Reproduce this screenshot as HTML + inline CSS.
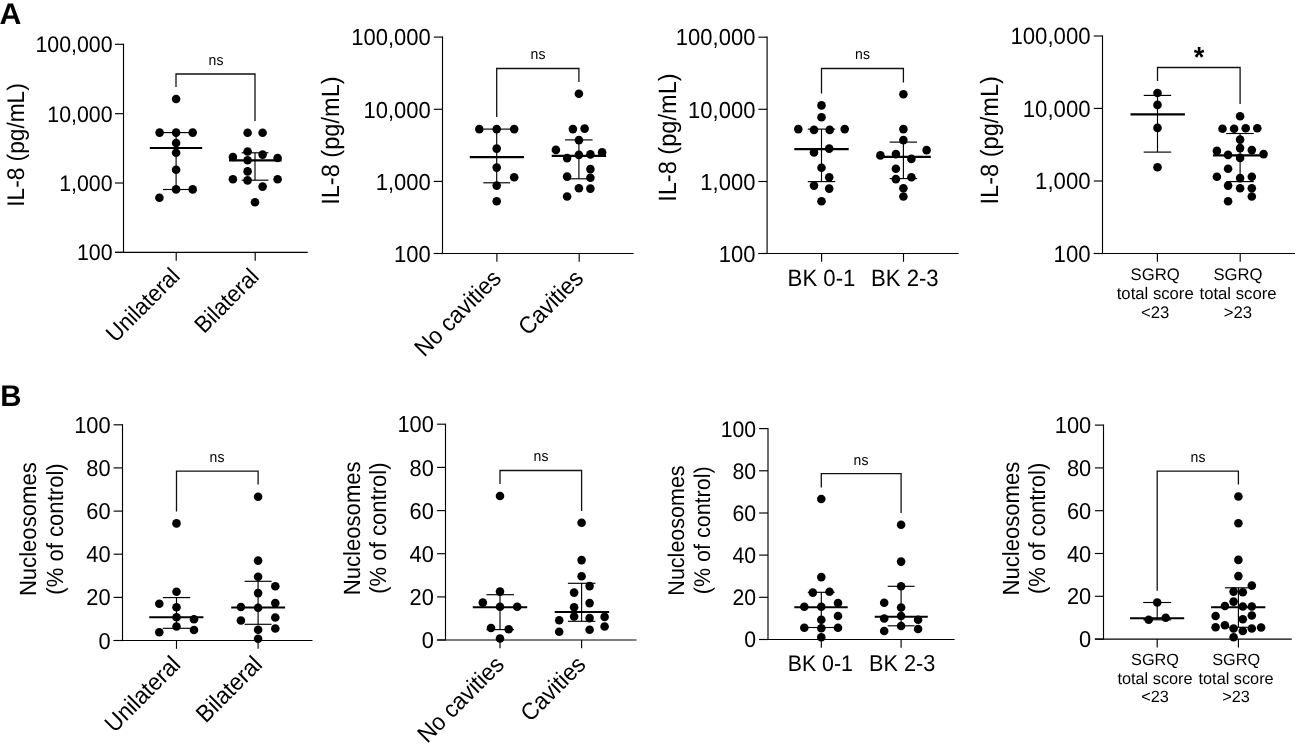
<!DOCTYPE html>
<html lang="en"><head><meta charset="utf-8"><title>Figure</title>
<style>
html,body{margin:0;padding:0;background:#fff;}
svg{display:block;filter:grayscale(1);}
text{font-family:'Liberation Sans', Arial, Helvetica, sans-serif;fill:#000;text-rendering:geometricPrecision;}
</style></head>
<body>
<svg width="1298" height="746" viewBox="0 0 1298 746">
<rect width="1298" height="746" fill="#fff"/>
<line x1="123.5" y1="43.7" x2="123.5" y2="253.0" stroke="#000" stroke-width="1.15"/>
<line x1="115.0" y1="44.3" x2="123.5" y2="44.3" stroke="#000" stroke-width="1.15"/>
<text transform="translate(112.5,52.2) scale(1.0,1.06)" text-anchor="end" font-size="21.3">100,000</text>
<line x1="115.0" y1="113.7" x2="123.5" y2="113.7" stroke="#000" stroke-width="1.15"/>
<text transform="translate(112.5,121.6) scale(1.0,1.06)" text-anchor="end" font-size="21.3">10,000</text>
<line x1="115.0" y1="183.0" x2="123.5" y2="183.0" stroke="#000" stroke-width="1.15"/>
<text transform="translate(112.5,190.9) scale(1.0,1.06)" text-anchor="end" font-size="21.3">1,000</text>
<line x1="115.0" y1="252.4" x2="123.5" y2="252.4" stroke="#000" stroke-width="1.15"/>
<text transform="translate(112.5,260.4) scale(1.0,1.06)" text-anchor="end" font-size="21.3">100</text>
<line x1="115.0" y1="252.4" x2="307.7" y2="252.4" stroke="#000" stroke-width="1.15"/>
<line x1="176.2" y1="252.4" x2="176.2" y2="260.8" stroke="#000" stroke-width="1.15"/>
<line x1="255.2" y1="252.4" x2="255.2" y2="260.8" stroke="#000" stroke-width="1.15"/>
<line x1="149.8" y1="148.0" x2="202.2" y2="148.0" stroke="#000" stroke-width="2.1"/>
<line x1="176.1" y1="132.6" x2="176.1" y2="189.5" stroke="#000" stroke-width="1.15"/>
<line x1="163.0" y1="132.6" x2="190.0" y2="132.6" stroke="#000" stroke-width="1.15"/>
<line x1="163.0" y1="189.5" x2="190.0" y2="189.5" stroke="#000" stroke-width="1.15"/>
<circle cx="176.1" cy="99.0" r="4.3"/>
<circle cx="159.6" cy="132.6" r="4.3"/>
<circle cx="176.1" cy="132.6" r="4.3"/>
<circle cx="192.7" cy="132.6" r="4.3"/>
<circle cx="176.1" cy="143.0" r="4.3"/>
<circle cx="176.1" cy="152.8" r="4.3"/>
<circle cx="176.1" cy="169.7" r="4.3"/>
<circle cx="176.1" cy="189.4" r="4.3"/>
<circle cx="192.7" cy="189.4" r="4.3"/>
<circle cx="159.4" cy="197.7" r="4.3"/>
<line x1="229.0" y1="160.4" x2="281.6" y2="160.4" stroke="#000" stroke-width="2.1"/>
<line x1="255.0" y1="152.8" x2="255.0" y2="180.2" stroke="#000" stroke-width="1.15"/>
<line x1="241.6" y1="152.8" x2="268.4" y2="152.8" stroke="#000" stroke-width="1.15"/>
<line x1="241.6" y1="180.2" x2="268.4" y2="180.2" stroke="#000" stroke-width="1.15"/>
<circle cx="247.6" cy="132.8" r="4.3"/>
<circle cx="262.6" cy="132.8" r="4.3"/>
<circle cx="247.6" cy="151.5" r="4.3"/>
<circle cx="262.6" cy="154.6" r="4.3"/>
<circle cx="232.9" cy="157.0" r="4.3"/>
<circle cx="277.6" cy="158.0" r="4.3"/>
<circle cx="247.6" cy="160.3" r="4.3"/>
<circle cx="247.6" cy="171.4" r="4.3"/>
<circle cx="232.9" cy="179.3" r="4.3"/>
<circle cx="247.6" cy="180.4" r="4.3"/>
<circle cx="277.6" cy="179.3" r="4.3"/>
<circle cx="262.6" cy="186.6" r="4.3"/>
<circle cx="255.0" cy="202.2" r="4.3"/>
<polyline points="176.0,86.9 176.0,74.0 255.0,74.0 255.0,120.9" fill="none" stroke="#111" stroke-width="1.3"/>
<text transform="translate(216.0,64.8) scale(1.0,1.06)" text-anchor="middle" font-size="14.0">ns</text>
<text transform="translate(23.6,145.0) rotate(-90) scale(1.0,1.06)" text-anchor="middle" font-size="22.7">IL-8 (pg/mL)</text>
<text transform="translate(181.2,277.5) rotate(-45) scale(1.0,1.06)" text-anchor="end" font-size="22.0">Unilateral</text>
<text transform="translate(260.3,278.1) rotate(-45) scale(1.0,1.06)" text-anchor="end" font-size="22.0">Bilateral</text>
<line x1="442.5" y1="36.5" x2="442.5" y2="254.1" stroke="#000" stroke-width="1.15"/>
<line x1="433.8" y1="37.1" x2="442.5" y2="37.1" stroke="#000" stroke-width="1.15"/>
<text transform="translate(430.8,45.3) scale(1.0,1.06)" text-anchor="end" font-size="22.0">100,000</text>
<line x1="433.8" y1="109.3" x2="442.5" y2="109.3" stroke="#000" stroke-width="1.15"/>
<text transform="translate(430.8,117.5) scale(1.0,1.06)" text-anchor="end" font-size="22.0">10,000</text>
<line x1="433.8" y1="181.4" x2="442.5" y2="181.4" stroke="#000" stroke-width="1.15"/>
<text transform="translate(430.8,189.6) scale(1.0,1.06)" text-anchor="end" font-size="22.0">1,000</text>
<line x1="433.8" y1="253.5" x2="442.5" y2="253.5" stroke="#000" stroke-width="1.15"/>
<text transform="translate(430.8,261.7) scale(1.0,1.06)" text-anchor="end" font-size="22.0">100</text>
<line x1="433.8" y1="253.5" x2="633.6" y2="253.5" stroke="#000" stroke-width="1.15"/>
<line x1="496.9" y1="253.5" x2="496.9" y2="261.8" stroke="#000" stroke-width="1.15"/>
<line x1="579.2" y1="253.5" x2="579.2" y2="261.8" stroke="#000" stroke-width="1.15"/>
<line x1="469.8" y1="157.1" x2="524.0" y2="157.1" stroke="#000" stroke-width="2.1"/>
<line x1="496.7" y1="129.1" x2="496.7" y2="182.8" stroke="#000" stroke-width="1.15"/>
<line x1="483.3" y1="129.1" x2="510.2" y2="129.1" stroke="#000" stroke-width="1.15"/>
<line x1="483.3" y1="182.8" x2="510.2" y2="182.8" stroke="#000" stroke-width="1.15"/>
<circle cx="479.3" cy="129.1" r="4.3"/>
<circle cx="496.7" cy="129.1" r="4.3"/>
<circle cx="514.2" cy="129.1" r="4.3"/>
<circle cx="496.7" cy="148.6" r="4.3"/>
<circle cx="496.7" cy="167.6" r="4.3"/>
<circle cx="514.2" cy="177.3" r="4.3"/>
<circle cx="496.7" cy="185.6" r="4.3"/>
<circle cx="496.7" cy="201.3" r="4.3"/>
<line x1="551.7" y1="155.9" x2="606.1" y2="155.9" stroke="#000" stroke-width="2.1"/>
<line x1="578.9" y1="139.9" x2="578.9" y2="178.8" stroke="#000" stroke-width="1.15"/>
<line x1="565.1" y1="139.9" x2="592.6" y2="139.9" stroke="#000" stroke-width="1.15"/>
<line x1="565.1" y1="178.8" x2="592.6" y2="178.8" stroke="#000" stroke-width="1.15"/>
<circle cx="578.9" cy="93.7" r="4.3"/>
<circle cx="572.9" cy="129.1" r="4.3"/>
<circle cx="584.6" cy="128.6" r="4.3"/>
<circle cx="578.9" cy="140.1" r="4.3"/>
<circle cx="555.9" cy="149.9" r="4.3"/>
<circle cx="602.1" cy="152.4" r="4.3"/>
<circle cx="578.9" cy="154.9" r="4.3"/>
<circle cx="590.4" cy="154.4" r="4.3"/>
<circle cx="567.1" cy="158.1" r="4.3"/>
<circle cx="590.4" cy="169.1" r="4.3"/>
<circle cx="567.1" cy="176.6" r="4.3"/>
<circle cx="590.4" cy="177.8" r="4.3"/>
<circle cx="578.9" cy="188.3" r="4.3"/>
<circle cx="590.4" cy="188.6" r="4.3"/>
<circle cx="567.1" cy="196.5" r="4.3"/>
<polyline points="496.7,117.1 496.7,68.5 578.9,68.5 578.9,82.1" fill="none" stroke="#111" stroke-width="1.3"/>
<text transform="translate(538.0,59.3) scale(1.0,1.06)" text-anchor="middle" font-size="14.0">ns</text>
<text transform="translate(338.8,140.6) rotate(-90) scale(1.0,1.06)" text-anchor="middle" font-size="23.6">IL-8 (pg/mL)</text>
<text transform="translate(502.4,279.7) rotate(-45) scale(1.0,1.06)" text-anchor="end" font-size="22.6">No cavities</text>
<text transform="translate(584.7,279.7) rotate(-45) scale(1.0,1.06)" text-anchor="end" font-size="22.6">Cavities</text>
<line x1="767.1" y1="36.6" x2="767.1" y2="254.1" stroke="#000" stroke-width="1.15"/>
<line x1="758.4" y1="37.2" x2="767.1" y2="37.2" stroke="#000" stroke-width="1.15"/>
<text transform="translate(755.4,45.4) scale(1.0,1.06)" text-anchor="end" font-size="22.0">100,000</text>
<line x1="758.4" y1="109.3" x2="767.1" y2="109.3" stroke="#000" stroke-width="1.15"/>
<text transform="translate(755.4,117.5) scale(1.0,1.06)" text-anchor="end" font-size="22.0">10,000</text>
<line x1="758.4" y1="181.5" x2="767.1" y2="181.5" stroke="#000" stroke-width="1.15"/>
<text transform="translate(755.4,189.7) scale(1.0,1.06)" text-anchor="end" font-size="22.0">1,000</text>
<line x1="758.4" y1="253.5" x2="767.1" y2="253.5" stroke="#000" stroke-width="1.15"/>
<text transform="translate(755.4,261.7) scale(1.0,1.06)" text-anchor="end" font-size="22.0">100</text>
<line x1="758.4" y1="253.5" x2="958.7" y2="253.5" stroke="#000" stroke-width="1.15"/>
<line x1="821.6" y1="253.5" x2="821.6" y2="261.8" stroke="#000" stroke-width="1.15"/>
<line x1="903.5" y1="253.5" x2="903.5" y2="261.8" stroke="#000" stroke-width="1.15"/>
<line x1="794.3" y1="149.1" x2="848.7" y2="149.1" stroke="#000" stroke-width="2.1"/>
<line x1="821.5" y1="129.1" x2="821.5" y2="181.6" stroke="#000" stroke-width="1.15"/>
<line x1="807.8" y1="129.1" x2="835.2" y2="129.1" stroke="#000" stroke-width="1.15"/>
<line x1="807.8" y1="181.6" x2="835.2" y2="181.6" stroke="#000" stroke-width="1.15"/>
<circle cx="821.5" cy="105.4" r="4.3"/>
<circle cx="821.5" cy="117.2" r="4.3"/>
<circle cx="798.3" cy="129.1" r="4.3"/>
<circle cx="814.0" cy="129.9" r="4.3"/>
<circle cx="829.7" cy="129.9" r="4.3"/>
<circle cx="844.7" cy="129.1" r="4.3"/>
<circle cx="829.2" cy="148.6" r="4.3"/>
<circle cx="814.0" cy="152.4" r="4.3"/>
<circle cx="821.5" cy="167.8" r="4.3"/>
<circle cx="829.2" cy="177.3" r="4.3"/>
<circle cx="814.0" cy="185.6" r="4.3"/>
<circle cx="829.2" cy="188.6" r="4.3"/>
<circle cx="821.5" cy="201.3" r="4.3"/>
<line x1="876.7" y1="156.9" x2="930.8" y2="156.9" stroke="#000" stroke-width="2.1"/>
<line x1="903.4" y1="142.1" x2="903.4" y2="178.6" stroke="#000" stroke-width="1.15"/>
<line x1="889.6" y1="142.1" x2="917.1" y2="142.1" stroke="#000" stroke-width="1.15"/>
<line x1="889.6" y1="178.6" x2="917.1" y2="178.6" stroke="#000" stroke-width="1.15"/>
<circle cx="903.4" cy="94.2" r="4.3"/>
<circle cx="903.4" cy="129.1" r="4.3"/>
<circle cx="903.4" cy="140.1" r="4.3"/>
<circle cx="926.6" cy="150.1" r="4.3"/>
<circle cx="880.4" cy="155.4" r="4.3"/>
<circle cx="895.9" cy="154.1" r="4.3"/>
<circle cx="911.4" cy="158.9" r="4.3"/>
<circle cx="895.9" cy="168.8" r="4.3"/>
<circle cx="895.9" cy="179.1" r="4.3"/>
<circle cx="911.4" cy="177.3" r="4.3"/>
<circle cx="903.4" cy="188.3" r="4.3"/>
<circle cx="903.4" cy="196.5" r="4.3"/>
<polyline points="821.5,93.4 821.5,68.5 903.4,68.5 903.4,82.4" fill="none" stroke="#111" stroke-width="1.3"/>
<text transform="translate(862.5,59.3) scale(1.0,1.06)" text-anchor="middle" font-size="14.0">ns</text>
<text transform="translate(676.1,137.6) rotate(-90) scale(1.0,1.06)" text-anchor="middle" font-size="23.6">IL-8 (pg/mL)</text>
<text transform="translate(821.5,285.8) scale(1.0,1.06)" text-anchor="middle" font-size="22.2">BK 0-1</text>
<text transform="translate(904.8,285.8) scale(1.0,1.06)" text-anchor="middle" font-size="22.2">BK 2-3</text>
<line x1="1102.5" y1="35.4" x2="1102.5" y2="254.1" stroke="#000" stroke-width="1.15"/>
<line x1="1093.8" y1="36.0" x2="1102.5" y2="36.0" stroke="#000" stroke-width="1.15"/>
<text transform="translate(1090.6,44.2) scale(1.0,1.06)" text-anchor="end" font-size="22.2">100,000</text>
<line x1="1093.8" y1="108.4" x2="1102.5" y2="108.4" stroke="#000" stroke-width="1.15"/>
<text transform="translate(1090.6,116.6) scale(1.0,1.06)" text-anchor="end" font-size="22.2">10,000</text>
<line x1="1093.8" y1="181.0" x2="1102.5" y2="181.0" stroke="#000" stroke-width="1.15"/>
<text transform="translate(1090.6,189.2) scale(1.0,1.06)" text-anchor="end" font-size="22.2">1,000</text>
<line x1="1093.8" y1="253.5" x2="1102.5" y2="253.5" stroke="#000" stroke-width="1.15"/>
<text transform="translate(1090.6,261.7) scale(1.0,1.06)" text-anchor="end" font-size="22.2">100</text>
<line x1="1093.8" y1="253.5" x2="1295.0" y2="253.5" stroke="#000" stroke-width="1.15"/>
<line x1="1157.4" y1="253.5" x2="1157.4" y2="261.8" stroke="#000" stroke-width="1.15"/>
<line x1="1240.2" y1="253.5" x2="1240.2" y2="261.8" stroke="#000" stroke-width="1.15"/>
<line x1="1130.5" y1="114.4" x2="1184.9" y2="114.4" stroke="#000" stroke-width="2.1"/>
<line x1="1157.5" y1="95.4" x2="1157.5" y2="152.1" stroke="#000" stroke-width="1.15"/>
<line x1="1143.7" y1="95.4" x2="1171.2" y2="95.4" stroke="#000" stroke-width="1.15"/>
<line x1="1143.7" y1="152.1" x2="1171.2" y2="152.1" stroke="#000" stroke-width="1.15"/>
<circle cx="1157.5" cy="93.0" r="4.3"/>
<circle cx="1157.5" cy="104.9" r="4.3"/>
<circle cx="1157.5" cy="127.9" r="4.3"/>
<circle cx="1157.5" cy="167.3" r="4.3"/>
<line x1="1212.9" y1="155.4" x2="1266.8" y2="155.4" stroke="#000" stroke-width="2.1"/>
<line x1="1240.1" y1="133.5" x2="1240.1" y2="181.6" stroke="#000" stroke-width="1.15"/>
<line x1="1226.2" y1="133.5" x2="1253.8" y2="133.5" stroke="#000" stroke-width="1.15"/>
<line x1="1226.2" y1="181.6" x2="1253.8" y2="181.6" stroke="#000" stroke-width="1.15"/>
<circle cx="1240.1" cy="116.2" r="4.3"/>
<circle cx="1222.5" cy="128.8" r="4.3"/>
<circle cx="1234.1" cy="128.7" r="4.3"/>
<circle cx="1245.7" cy="128.3" r="4.3"/>
<circle cx="1257.3" cy="128.3" r="4.3"/>
<circle cx="1240.1" cy="139.6" r="4.3"/>
<circle cx="1240.1" cy="148.1" r="4.3"/>
<circle cx="1216.9" cy="150.9" r="4.3"/>
<circle cx="1251.8" cy="150.1" r="4.3"/>
<circle cx="1263.6" cy="154.1" r="4.3"/>
<circle cx="1228.1" cy="154.9" r="4.3"/>
<circle cx="1240.1" cy="157.9" r="4.3"/>
<circle cx="1228.1" cy="168.8" r="4.3"/>
<circle cx="1216.9" cy="176.8" r="4.3"/>
<circle cx="1240.1" cy="178.1" r="4.3"/>
<circle cx="1251.8" cy="176.8" r="4.3"/>
<circle cx="1228.1" cy="185.6" r="4.3"/>
<circle cx="1240.1" cy="188.3" r="4.3"/>
<circle cx="1251.8" cy="188.3" r="4.3"/>
<circle cx="1251.8" cy="196.5" r="4.3"/>
<circle cx="1228.1" cy="201.3" r="4.3"/>
<polyline points="1157.5,80.9 1157.5,67.5 1240.1,67.5 1240.1,104.1" fill="none" stroke="#111" stroke-width="1.3"/>
<text transform="translate(1199.0,67.2) scale(1.0,1.06)" text-anchor="middle" font-size="27.4" font-weight="bold">*</text>
<text transform="translate(998.2,140.3) rotate(-90) scale(1.0,1.06)" text-anchor="middle" font-size="23.6">IL-8 (pg/mL)</text>
<text transform="translate(1155.2,279.6) scale(1.0,1.0)" text-anchor="middle" font-size="16.7">SGRQ</text>
<text transform="translate(1155.2,298.6) scale(1.0,1.0)" text-anchor="middle" font-size="16.7">total score</text>
<text transform="translate(1155.2,318.1) scale(1.0,1.0)" text-anchor="middle" font-size="16.7">&lt;23</text>
<text transform="translate(1238.0,279.6) scale(1.0,1.0)" text-anchor="middle" font-size="16.7">SGRQ</text>
<text transform="translate(1238.0,298.6) scale(1.0,1.0)" text-anchor="middle" font-size="16.7">total score</text>
<text transform="translate(1238.0,318.1) scale(1.0,1.0)" text-anchor="middle" font-size="16.7">&gt;23</text>
<line x1="122.5" y1="424.2" x2="122.5" y2="641.1" stroke="#000" stroke-width="1.15"/>
<line x1="113.6" y1="424.8" x2="122.5" y2="424.8" stroke="#000" stroke-width="1.15"/>
<text transform="translate(110.6,432.9) scale(1.0,1.06)" text-anchor="end" font-size="21.8">100</text>
<line x1="113.6" y1="467.9" x2="122.5" y2="467.9" stroke="#000" stroke-width="1.15"/>
<text transform="translate(110.6,476.0) scale(1.0,1.06)" text-anchor="end" font-size="21.8">80</text>
<line x1="113.6" y1="511.1" x2="122.5" y2="511.1" stroke="#000" stroke-width="1.15"/>
<text transform="translate(110.6,519.2) scale(1.0,1.06)" text-anchor="end" font-size="21.8">60</text>
<line x1="113.6" y1="554.2" x2="122.5" y2="554.2" stroke="#000" stroke-width="1.15"/>
<text transform="translate(110.6,562.3) scale(1.0,1.06)" text-anchor="end" font-size="21.8">40</text>
<line x1="113.6" y1="597.4" x2="122.5" y2="597.4" stroke="#000" stroke-width="1.15"/>
<text transform="translate(110.6,605.4) scale(1.0,1.06)" text-anchor="end" font-size="21.8">20</text>
<line x1="113.6" y1="640.5" x2="122.5" y2="640.5" stroke="#000" stroke-width="1.15"/>
<text transform="translate(110.6,648.6) scale(1.0,1.06)" text-anchor="end" font-size="21.8">0</text>
<line x1="113.6" y1="640.5" x2="312.5" y2="640.5" stroke="#000" stroke-width="1.15"/>
<line x1="176.5" y1="640.5" x2="176.5" y2="648.8" stroke="#000" stroke-width="1.15"/>
<line x1="258.1" y1="640.5" x2="258.1" y2="648.8" stroke="#000" stroke-width="1.15"/>
<line x1="149.3" y1="617.3" x2="203.4" y2="617.3" stroke="#000" stroke-width="2.1"/>
<line x1="176.5" y1="597.6" x2="176.5" y2="628.3" stroke="#000" stroke-width="1.15"/>
<line x1="162.8" y1="597.6" x2="190.2" y2="597.6" stroke="#000" stroke-width="1.15"/>
<line x1="162.8" y1="628.3" x2="190.2" y2="628.3" stroke="#000" stroke-width="1.15"/>
<circle cx="176.5" cy="523.4" r="4.3"/>
<circle cx="176.5" cy="591.8" r="4.3"/>
<circle cx="159.3" cy="603.8" r="4.3"/>
<circle cx="176.5" cy="607.3" r="4.3"/>
<circle cx="176.5" cy="617.3" r="4.3"/>
<circle cx="194.0" cy="619.3" r="4.3"/>
<circle cx="176.5" cy="626.5" r="4.3"/>
<circle cx="194.0" cy="630.0" r="4.3"/>
<circle cx="159.3" cy="632.3" r="4.3"/>
<line x1="231.2" y1="607.5" x2="285.1" y2="607.5" stroke="#000" stroke-width="2.1"/>
<line x1="258.1" y1="581.3" x2="258.1" y2="624.3" stroke="#000" stroke-width="1.15"/>
<line x1="244.6" y1="581.3" x2="271.6" y2="581.3" stroke="#000" stroke-width="1.15"/>
<line x1="244.6" y1="624.3" x2="271.6" y2="624.3" stroke="#000" stroke-width="1.15"/>
<circle cx="258.1" cy="496.7" r="4.3"/>
<circle cx="258.1" cy="560.6" r="4.3"/>
<circle cx="258.1" cy="576.8" r="4.3"/>
<circle cx="275.3" cy="586.3" r="4.3"/>
<circle cx="258.1" cy="593.1" r="4.3"/>
<circle cx="275.3" cy="603.1" r="4.3"/>
<circle cx="240.9" cy="607.0" r="4.3"/>
<circle cx="258.1" cy="607.8" r="4.3"/>
<circle cx="275.3" cy="617.5" r="4.3"/>
<circle cx="240.9" cy="620.5" r="4.3"/>
<circle cx="275.3" cy="628.5" r="4.3"/>
<circle cx="258.1" cy="629.8" r="4.3"/>
<circle cx="258.1" cy="638.7" r="4.3"/>
<polyline points="176.5,511.6 176.5,471.2 258.1,471.2 258.1,484.6" fill="none" stroke="#111" stroke-width="1.3"/>
<text transform="translate(217.0,462.0) scale(1.0,1.06)" text-anchor="middle" font-size="14.0">ns</text>
<text transform="translate(36.1,529.2) rotate(-90) scale(1.0,1.06)" text-anchor="middle" font-size="22.1">Nucleosomes</text>
<text transform="translate(62.8,529.0) rotate(-90) scale(1.0,1.06)" text-anchor="middle" font-size="22.1">(% of control)</text>
<text transform="translate(181.9,665.9) rotate(-45) scale(1.0,1.06)" text-anchor="end" font-size="22.6">Unilateral</text>
<text transform="translate(263.5,665.9) rotate(-45) scale(1.0,1.06)" text-anchor="end" font-size="22.6">Bilateral</text>
<line x1="445.5" y1="423.7" x2="445.5" y2="640.6" stroke="#000" stroke-width="1.15"/>
<line x1="437.1" y1="424.2" x2="445.5" y2="424.2" stroke="#000" stroke-width="1.15"/>
<text transform="translate(433.8,432.3) scale(1.0,1.06)" text-anchor="end" font-size="21.8">100</text>
<line x1="437.1" y1="467.4" x2="445.5" y2="467.4" stroke="#000" stroke-width="1.15"/>
<text transform="translate(433.8,475.5) scale(1.0,1.06)" text-anchor="end" font-size="21.8">80</text>
<line x1="437.1" y1="510.6" x2="445.5" y2="510.6" stroke="#000" stroke-width="1.15"/>
<text transform="translate(433.8,518.6) scale(1.0,1.06)" text-anchor="end" font-size="21.8">60</text>
<line x1="437.1" y1="553.7" x2="445.5" y2="553.7" stroke="#000" stroke-width="1.15"/>
<text transform="translate(433.8,561.8) scale(1.0,1.06)" text-anchor="end" font-size="21.8">40</text>
<line x1="437.1" y1="596.9" x2="445.5" y2="596.9" stroke="#000" stroke-width="1.15"/>
<text transform="translate(433.8,604.9) scale(1.0,1.06)" text-anchor="end" font-size="21.8">20</text>
<line x1="437.1" y1="640.0" x2="445.5" y2="640.0" stroke="#000" stroke-width="1.15"/>
<text transform="translate(433.8,648.1) scale(1.0,1.06)" text-anchor="end" font-size="21.8">0</text>
<line x1="437.1" y1="640.0" x2="636.5" y2="640.0" stroke="#000" stroke-width="1.15"/>
<line x1="500.0" y1="640.0" x2="500.0" y2="648.3" stroke="#000" stroke-width="1.15"/>
<line x1="581.6" y1="640.0" x2="581.6" y2="648.3" stroke="#000" stroke-width="1.15"/>
<line x1="472.8" y1="607.3" x2="527.2" y2="607.3" stroke="#000" stroke-width="2.1"/>
<line x1="500.0" y1="594.7" x2="500.0" y2="629.6" stroke="#000" stroke-width="1.15"/>
<line x1="486.5" y1="594.7" x2="514.0" y2="594.7" stroke="#000" stroke-width="1.15"/>
<line x1="486.5" y1="629.6" x2="514.0" y2="629.6" stroke="#000" stroke-width="1.15"/>
<circle cx="500.0" cy="496.0" r="4.3"/>
<circle cx="500.0" cy="591.6" r="4.3"/>
<circle cx="482.8" cy="602.6" r="4.3"/>
<circle cx="500.0" cy="606.8" r="4.3"/>
<circle cx="517.2" cy="606.8" r="4.3"/>
<circle cx="491.0" cy="628.0" r="4.3"/>
<circle cx="508.7" cy="629.3" r="4.3"/>
<circle cx="500.0" cy="638.5" r="4.3"/>
<line x1="554.7" y1="612.0" x2="609.1" y2="612.0" stroke="#000" stroke-width="2.1"/>
<line x1="581.6" y1="583.3" x2="581.6" y2="621.3" stroke="#000" stroke-width="1.15"/>
<line x1="567.9" y1="583.3" x2="595.4" y2="583.3" stroke="#000" stroke-width="1.15"/>
<line x1="567.9" y1="621.3" x2="595.4" y2="621.3" stroke="#000" stroke-width="1.15"/>
<circle cx="581.6" cy="522.7" r="4.3"/>
<circle cx="581.6" cy="560.1" r="4.3"/>
<circle cx="581.6" cy="576.3" r="4.3"/>
<circle cx="589.6" cy="586.1" r="4.3"/>
<circle cx="574.1" cy="592.6" r="4.3"/>
<circle cx="589.6" cy="603.1" r="4.3"/>
<circle cx="574.1" cy="607.3" r="4.3"/>
<circle cx="574.1" cy="616.5" r="4.3"/>
<circle cx="589.6" cy="618.1" r="4.3"/>
<circle cx="604.6" cy="616.9" r="4.3"/>
<circle cx="559.2" cy="620.3" r="4.3"/>
<circle cx="604.6" cy="626.5" r="4.3"/>
<circle cx="589.6" cy="629.8" r="4.3"/>
<circle cx="559.2" cy="631.8" r="4.3"/>
<polyline points="500.0,484.1 500.0,470.5 581.6,470.5 581.6,510.9" fill="none" stroke="#111" stroke-width="1.3"/>
<text transform="translate(541.0,461.0) scale(1.0,1.06)" text-anchor="middle" font-size="14.0">ns</text>
<text transform="translate(359.7,528.3) rotate(-90) scale(1.0,1.06)" text-anchor="middle" font-size="22.1">Nucleosomes</text>
<text transform="translate(385.9,528.1) rotate(-90) scale(1.0,1.06)" text-anchor="middle" font-size="22.1">(% of control)</text>
<text transform="translate(505.4,665.9) rotate(-45) scale(1.0,1.06)" text-anchor="end" font-size="22.6">No cavities</text>
<text transform="translate(587.0,665.9) rotate(-45) scale(1.0,1.06)" text-anchor="end" font-size="22.6">Cavities</text>
<line x1="768.0" y1="428.0" x2="768.0" y2="640.1" stroke="#000" stroke-width="1.15"/>
<line x1="759.1" y1="428.6" x2="768.0" y2="428.6" stroke="#000" stroke-width="1.15"/>
<text transform="translate(756.1,436.5) scale(1.0,1.06)" text-anchor="end" font-size="21.2">100</text>
<line x1="759.1" y1="470.8" x2="768.0" y2="470.8" stroke="#000" stroke-width="1.15"/>
<text transform="translate(756.1,478.6) scale(1.0,1.06)" text-anchor="end" font-size="21.2">80</text>
<line x1="759.1" y1="513.0" x2="768.0" y2="513.0" stroke="#000" stroke-width="1.15"/>
<text transform="translate(756.1,520.8) scale(1.0,1.06)" text-anchor="end" font-size="21.2">60</text>
<line x1="759.1" y1="555.1" x2="768.0" y2="555.1" stroke="#000" stroke-width="1.15"/>
<text transform="translate(756.1,563.0) scale(1.0,1.06)" text-anchor="end" font-size="21.2">40</text>
<line x1="759.1" y1="597.3" x2="768.0" y2="597.3" stroke="#000" stroke-width="1.15"/>
<text transform="translate(756.1,605.2) scale(1.0,1.06)" text-anchor="end" font-size="21.2">20</text>
<line x1="759.1" y1="639.5" x2="768.0" y2="639.5" stroke="#000" stroke-width="1.15"/>
<text transform="translate(756.1,647.4) scale(1.0,1.06)" text-anchor="end" font-size="21.2">0</text>
<line x1="759.1" y1="639.5" x2="954.6" y2="639.5" stroke="#000" stroke-width="1.15"/>
<line x1="821.3" y1="639.5" x2="821.3" y2="647.8" stroke="#000" stroke-width="1.15"/>
<line x1="901.1" y1="639.5" x2="901.1" y2="647.8" stroke="#000" stroke-width="1.15"/>
<line x1="794.3" y1="607.3" x2="847.7" y2="607.3" stroke="#000" stroke-width="2.1"/>
<line x1="821.3" y1="592.3" x2="821.3" y2="627.5" stroke="#000" stroke-width="1.15"/>
<line x1="807.8" y1="592.3" x2="834.7" y2="592.3" stroke="#000" stroke-width="1.15"/>
<line x1="807.8" y1="627.5" x2="834.7" y2="627.5" stroke="#000" stroke-width="1.15"/>
<circle cx="821.3" cy="499.0" r="4.3"/>
<circle cx="821.3" cy="577.1" r="4.3"/>
<circle cx="812.8" cy="592.6" r="4.3"/>
<circle cx="829.5" cy="591.8" r="4.3"/>
<circle cx="838.0" cy="603.1" r="4.3"/>
<circle cx="804.3" cy="606.8" r="4.3"/>
<circle cx="821.3" cy="606.8" r="4.3"/>
<circle cx="838.0" cy="616.0" r="4.3"/>
<circle cx="821.3" cy="619.8" r="4.3"/>
<circle cx="804.3" cy="627.8" r="4.3"/>
<circle cx="821.3" cy="628.3" r="4.3"/>
<circle cx="838.0" cy="627.8" r="4.3"/>
<circle cx="821.3" cy="637.3" r="4.3"/>
<line x1="874.7" y1="616.8" x2="927.8" y2="616.8" stroke="#000" stroke-width="2.1"/>
<line x1="901.1" y1="586.3" x2="901.1" y2="625.8" stroke="#000" stroke-width="1.15"/>
<line x1="887.7" y1="586.3" x2="914.6" y2="586.3" stroke="#000" stroke-width="1.15"/>
<line x1="887.7" y1="625.8" x2="914.6" y2="625.8" stroke="#000" stroke-width="1.15"/>
<circle cx="901.1" cy="524.7" r="4.3"/>
<circle cx="901.1" cy="561.6" r="4.3"/>
<circle cx="901.1" cy="586.3" r="4.3"/>
<circle cx="884.2" cy="602.8" r="4.3"/>
<circle cx="901.1" cy="607.5" r="4.3"/>
<circle cx="901.1" cy="616.0" r="4.3"/>
<circle cx="884.2" cy="618.5" r="4.3"/>
<circle cx="918.1" cy="619.8" r="4.3"/>
<circle cx="901.1" cy="626.0" r="4.3"/>
<circle cx="918.1" cy="629.0" r="4.3"/>
<circle cx="884.2" cy="631.0" r="4.3"/>
<polyline points="821.3,487.4 821.3,473.7 901.1,473.7 901.1,512.9" fill="none" stroke="#111" stroke-width="1.3"/>
<text transform="translate(861.0,464.5) scale(1.0,1.06)" text-anchor="middle" font-size="14.0">ns</text>
<text transform="translate(684.1,530.5) rotate(-90) scale(1.0,1.06)" text-anchor="middle" font-size="21.5">Nucleosomes</text>
<text transform="translate(709.7,530.3) rotate(-90) scale(1.0,1.06)" text-anchor="middle" font-size="21.5">(% of control)</text>
<text transform="translate(820.3,671.0) scale(1.0,1.06)" text-anchor="middle" font-size="21.3">BK 0-1</text>
<text transform="translate(902.2,671.0) scale(1.0,1.06)" text-anchor="middle" font-size="21.7">BK 2-3</text>
<line x1="1103.5" y1="424.5" x2="1103.5" y2="639.7" stroke="#000" stroke-width="1.15"/>
<line x1="1094.9" y1="425.1" x2="1103.5" y2="425.1" stroke="#000" stroke-width="1.15"/>
<text transform="translate(1091.2,433.2) scale(1.0,1.06)" text-anchor="end" font-size="21.8">100</text>
<line x1="1094.9" y1="467.9" x2="1103.5" y2="467.9" stroke="#000" stroke-width="1.15"/>
<text transform="translate(1091.2,476.0) scale(1.0,1.06)" text-anchor="end" font-size="21.8">80</text>
<line x1="1094.9" y1="510.7" x2="1103.5" y2="510.7" stroke="#000" stroke-width="1.15"/>
<text transform="translate(1091.2,518.8) scale(1.0,1.06)" text-anchor="end" font-size="21.8">60</text>
<line x1="1094.9" y1="553.5" x2="1103.5" y2="553.5" stroke="#000" stroke-width="1.15"/>
<text transform="translate(1091.2,561.6) scale(1.0,1.06)" text-anchor="end" font-size="21.8">40</text>
<line x1="1094.9" y1="596.3" x2="1103.5" y2="596.3" stroke="#000" stroke-width="1.15"/>
<text transform="translate(1091.2,604.4) scale(1.0,1.06)" text-anchor="end" font-size="21.8">20</text>
<line x1="1094.9" y1="639.1" x2="1103.5" y2="639.1" stroke="#000" stroke-width="1.15"/>
<text transform="translate(1091.2,647.2) scale(1.0,1.06)" text-anchor="end" font-size="21.8">0</text>
<line x1="1094.9" y1="639.1" x2="1291.8" y2="639.1" stroke="#000" stroke-width="1.15"/>
<line x1="1157.2" y1="639.1" x2="1157.2" y2="647.4" stroke="#000" stroke-width="1.15"/>
<line x1="1238.4" y1="639.1" x2="1238.4" y2="647.4" stroke="#000" stroke-width="1.15"/>
<line x1="1130.0" y1="618.3" x2="1184.2" y2="618.3" stroke="#000" stroke-width="2.1"/>
<line x1="1157.2" y1="602.5" x2="1157.2" y2="619.8" stroke="#000" stroke-width="1.15"/>
<line x1="1143.2" y1="602.5" x2="1171.2" y2="602.5" stroke="#000" stroke-width="1.15"/>
<line x1="1143.2" y1="619.8" x2="1171.2" y2="619.8" stroke="#000" stroke-width="1.15"/>
<circle cx="1157.2" cy="602.5" r="4.3"/>
<circle cx="1165.7" cy="617.8" r="4.3"/>
<circle cx="1148.7" cy="619.8" r="4.3"/>
<line x1="1211.1" y1="607.3" x2="1265.3" y2="607.3" stroke="#000" stroke-width="2.1"/>
<line x1="1238.4" y1="587.8" x2="1238.4" y2="627.3" stroke="#000" stroke-width="1.15"/>
<line x1="1224.9" y1="587.8" x2="1251.8" y2="587.8" stroke="#000" stroke-width="1.15"/>
<line x1="1224.9" y1="627.3" x2="1251.8" y2="627.3" stroke="#000" stroke-width="1.15"/>
<circle cx="1238.4" cy="496.5" r="4.3"/>
<circle cx="1238.4" cy="523.2" r="4.3"/>
<circle cx="1238.4" cy="559.9" r="4.3"/>
<circle cx="1238.4" cy="576.1" r="4.3"/>
<circle cx="1251.8" cy="585.6" r="4.3"/>
<circle cx="1233.6" cy="591.6" r="4.3"/>
<circle cx="1242.8" cy="592.3" r="4.3"/>
<circle cx="1233.6" cy="601.6" r="4.3"/>
<circle cx="1224.9" cy="606.0" r="4.3"/>
<circle cx="1242.8" cy="606.5" r="4.3"/>
<circle cx="1251.8" cy="606.5" r="4.3"/>
<circle cx="1215.6" cy="616.0" r="4.3"/>
<circle cx="1251.8" cy="615.5" r="4.3"/>
<circle cx="1242.8" cy="619.3" r="4.3"/>
<circle cx="1224.9" cy="625.3" r="4.3"/>
<circle cx="1215.6" cy="627.3" r="4.3"/>
<circle cx="1233.6" cy="628.5" r="4.3"/>
<circle cx="1251.8" cy="628.5" r="4.3"/>
<circle cx="1261.1" cy="627.5" r="4.3"/>
<circle cx="1242.8" cy="631.0" r="4.3"/>
<circle cx="1233.6" cy="637.3" r="4.3"/>
<polyline points="1157.2,590.7 1157.2,471.2 1238.4,471.2 1238.4,484.6" fill="none" stroke="#111" stroke-width="1.3"/>
<text transform="translate(1198.0,462.0) scale(1.0,1.06)" text-anchor="middle" font-size="14.0">ns</text>
<text transform="translate(1018.7,528.6) rotate(-90) scale(1.0,1.06)" text-anchor="middle" font-size="22.1">Nucleosomes</text>
<text transform="translate(1044.7,528.4) rotate(-90) scale(1.0,1.06)" text-anchor="middle" font-size="22.1">(% of control)</text>
<text transform="translate(1155.0,664.9) scale(1.0,1.0)" text-anchor="middle" font-size="16.3">SGRQ</text>
<text transform="translate(1155.0,683.5) scale(1.0,1.0)" text-anchor="middle" font-size="16.3">total score</text>
<text transform="translate(1155.0,702.0) scale(1.0,1.0)" text-anchor="middle" font-size="16.3">&lt;23</text>
<text transform="translate(1236.1,664.9) scale(1.0,1.0)" text-anchor="middle" font-size="16.3">SGRQ</text>
<text transform="translate(1236.1,683.5) scale(1.0,1.0)" text-anchor="middle" font-size="16.3">total score</text>
<text transform="translate(1236.1,702.0) scale(1.0,1.0)" text-anchor="middle" font-size="16.3">&gt;23</text>
<text transform="translate(-0.6,24.2) scale(1.07,1.06)" text-anchor="start" font-size="28.3" font-weight="bold">A</text>
<text transform="translate(0.2,405.6) scale(1.04,1.06)" text-anchor="start" font-size="28.3" font-weight="bold">B</text>
</svg>
</body></html>
